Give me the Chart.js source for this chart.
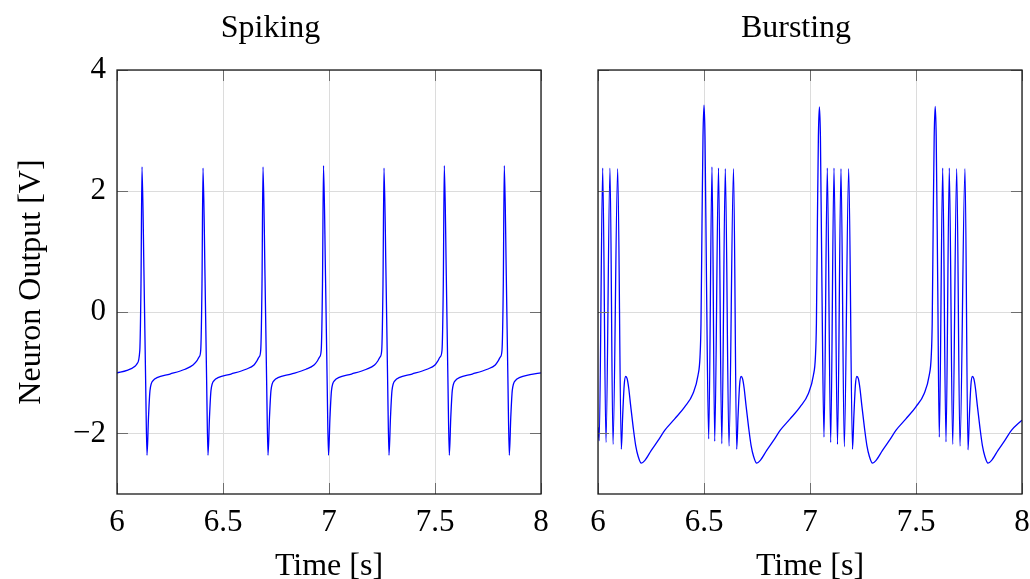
<!DOCTYPE html>
<html>
<head>
<meta charset="utf-8">
<script src="https://cdn.jsdelivr.net/npm/chart.js@4.4.1/dist/chart.umd.min.js"></script>
<style>
  body { margin: 0; background: #fff; overflow: hidden; }
  canvas { position: absolute; top: 0; }
  #spiking { left: 0; }
  #bursting { left: 570px; }
</style>
</head>
<body>
<canvas id="spiking" width="658" height="579"></canvas>
<canvas id="bursting" width="480" height="579"></canvas>
<script>
// Spiking neuron trace (time in s, output in V)
const spikeTime = [
  6.0000, 6.0472, 6.0849, 6.0943, 6.1075, 6.1132, 6.1179, 6.1274, 6.1354, 6.1415,
  6.1486, 6.1557, 6.1722, 6.1887, 6.2500, 6.3208, 6.3585, 6.3774,
  6.3868, 6.3948, 6.4009, 6.4057, 6.4151, 6.4231, 6.4292, 6.4363, 6.4434, 6.4599,
  6.4764, 6.5377, 6.6085, 6.6462, 6.6604, 6.6698,
  6.6778, 6.6840, 6.6887, 6.6981, 6.7061, 6.7123, 6.7193, 6.7264, 6.7429, 6.7594,
  6.8208, 6.8915, 6.9292, 6.9458, 6.9552,
  6.9632, 6.9693, 6.9741, 6.9835, 6.9915, 6.9976, 7.0047, 7.0118, 7.0283, 7.0448,
  7.1061, 7.1769, 7.2146, 7.2311, 7.2406,
  7.2486, 7.2547, 7.2594, 7.2689, 7.2769, 7.2830, 7.2901, 7.2972, 7.3137, 7.3302,
  7.3915, 7.4623, 7.5000, 7.5142, 7.5236,
  7.5330, 7.5392, 7.5439, 7.5533, 7.5613, 7.5675, 7.5745, 7.5816, 7.5981, 7.6146,
  7.6759, 7.7467, 7.7844, 7.7986, 7.8080,
  7.8160, 7.8222, 7.8269, 7.8363, 7.8443, 7.8505, 7.8575, 7.8646, 7.8811, 7.8976,
  7.9481, 8.0000
];
const spikeVolt = [
  -1.00, -0.96, -0.89, -0.85, -0.63, 0.47, 2.40, 0.60, -1.20, -2.36,
  -1.73, -1.29, -1.12, -1.08, -1.02, -0.94, -0.87, -0.80,
  -0.74, -0.63, 0.47, 2.38, 0.60, -1.20, -2.36, -1.73, -1.29, -1.12,
  -1.08, -1.02, -0.94, -0.87, -0.80, -0.74,
  -0.63, 0.47, 2.40, 0.60, -1.20, -2.36, -1.73, -1.29, -1.12, -1.08,
  -1.02, -0.94, -0.87, -0.80, -0.74,
  -0.63, 0.47, 2.42, 0.60, -1.20, -2.36, -1.73, -1.29, -1.12, -1.08,
  -1.02, -0.94, -0.87, -0.80, -0.74,
  -0.63, 0.47, 2.38, 0.60, -1.20, -2.36, -1.73, -1.29, -1.12, -1.08,
  -1.02, -0.94, -0.87, -0.80, -0.74,
  -0.63, 0.47, 2.42, 0.60, -1.20, -2.36, -1.73, -1.29, -1.12, -1.08,
  -1.02, -0.94, -0.87, -0.80, -0.74,
  -0.63, 0.47, 2.42, 0.60, -1.20, -2.36, -1.73, -1.29, -1.12, -1.08,
  -1.03, -1.00
];

// Bursting neuron trace
const burstTime = [
  6.0000, 6.0057, 6.0222, 6.0377, 6.0566, 6.0708, 6.0929, 6.1099, 6.1165, 6.1236,
  6.1307, 6.1377, 6.1448, 6.1543, 6.1660, 6.1778, 6.1896, 6.2042, 6.2203, 6.2514,
  6.2830, 6.3146, 6.3618, 6.4090, 6.4481, 6.4717, 6.4811, 6.4858, 6.4906, 6.4953,
  6.5000, 6.5047, 6.5118, 6.5222, 6.5377, 6.5505, 6.5684, 6.5840, 6.6005, 6.6179,
  6.6392, 6.6542, 6.6608, 6.6679, 6.6750, 6.6821, 6.6892, 6.6986, 6.7104, 6.7222,
  6.7340, 6.7486, 6.7646, 6.7958, 6.8274, 6.8590, 6.9061, 6.9533, 6.9925, 7.0160,
  7.0255, 7.0302, 7.0349, 7.0396, 7.0443, 7.0491, 7.0561, 7.0660, 7.0816, 7.0976,
  7.1132, 7.1297, 7.1462, 7.1618, 7.1825, 7.2005, 7.2071, 7.2142, 7.2212, 7.2283,
  7.2354, 7.2448, 7.2566, 7.2684, 7.2802, 7.2948, 7.3108, 7.3420, 7.3736, 7.4052,
  7.4524, 7.4995, 7.5387, 7.5623, 7.5717, 7.5764, 7.5811, 7.5858, 7.5906, 7.5953,
  7.6024, 7.6099, 7.6259, 7.6415, 7.6571, 7.6731, 7.6920, 7.7075, 7.7311, 7.7453,
  7.7519, 7.7590, 7.7660, 7.7731, 7.7802, 7.7896, 7.8014, 7.8132, 7.8250, 7.8396,
  7.8557, 7.8868, 7.9184, 7.9500, 8.0000
];
const burstVolt = [
  -1.90, -2.12, 2.38, -2.15, 2.38, -2.18, 2.37, -2.26, -1.70, -1.20,
  -1.06, -1.10, -1.25, -1.55, -1.90, -2.20, -2.38, -2.49, -2.45, -2.28,
  -2.12, -1.95, -1.76, -1.56, -1.34, -1.04, -0.74, -0.19, 1.47, 2.90,
  3.42, 2.90, 0.50, -2.09, 2.40, -2.13, 2.38, -2.17, 2.37, -2.21,
  2.37, -2.26, -1.70, -1.20, -1.06, -1.10, -1.25, -1.55, -1.90, -2.20,
  -2.38, -2.49, -2.45, -2.28, -2.12, -1.95, -1.76, -1.56, -1.34, -1.04,
  -0.74, -0.19, 1.47, 2.90, 3.39, 2.90, 0.50, -2.06, 2.38, -2.15,
  2.38, -2.18, 2.37, -2.22, 2.37, -2.26, -1.70, -1.20, -1.06, -1.10,
  -1.25, -1.55, -1.90, -2.20, -2.38, -2.49, -2.45, -2.28, -2.12, -1.95,
  -1.76, -1.56, -1.34, -1.04, -0.74, -0.19, 1.47, 2.90, 3.40, 2.90,
  0.50, -2.06, 2.38, -2.14, 2.38, -2.18, 2.37, -2.21, 2.37, -2.27,
  -1.70, -1.20, -1.06, -1.10, -1.25, -1.55, -1.90, -2.20, -2.38, -2.49,
  -2.45, -2.28, -2.12, -1.95, -1.78
];

const xTicks = [6, 6.5, 7, 7.5, 8];
const xTickLabels = ['6', '6.5', '7', '7.5', '8'];
const yTicks = [-2, 0, 2, 4];
const yTickLabels = ['\u22122', '0', '2', '4'];

const FONT = 'Liberation Serif, Times New Roman, serif';
const TICK_LEN = 11;

// pgfplots-style box with inward tick marks
const frameTicks = {
  id: 'frameTicks',
  afterDatasetsDraw(chart) {
    const { ctx, chartArea: a, scales: { x, y } } = chart;
    ctx.save();
    ctx.strokeStyle = '#6e6e6e';
    ctx.lineWidth = 1;
    ctx.beginPath();
    x.ticks.forEach(t => {
      const px = Math.round(x.getPixelForValue(t.value)) + 0.5;
      ctx.moveTo(px, a.top); ctx.lineTo(px, a.top + TICK_LEN);
      ctx.moveTo(px, a.bottom); ctx.lineTo(px, a.bottom - TICK_LEN);
    });
    y.ticks.forEach(t => {
      const py = Math.round(y.getPixelForValue(t.value)) + 0.5;
      ctx.moveTo(a.left, py); ctx.lineTo(a.left + TICK_LEN, py);
      ctx.moveTo(a.right, py); ctx.lineTo(a.right - TICK_LEN, py);
    });
    ctx.stroke();
    ctx.strokeStyle = '#1a1a1a';
    ctx.lineWidth = 1.3;
    ctx.strokeRect(a.left, a.top, a.width, a.height);
    ctx.restore();
  }
};

function makeChart(id, title, times, volts, showY, yWidth, padRight) {
  const ctx = document.getElementById(id).getContext('2d');
  return new Chart(ctx, {
    type: 'line',
    data: {
      datasets: [{
        data: times.map((t, i) => ({ x: t, y: volts[i] })),
        borderColor: '#0000ff',
        borderWidth: 1.3,
        pointRadius: 0,
        cubicInterpolationMode: 'monotone',
        fill: false
      }]
    },
    plugins: [frameTicks],
    options: {
      responsive: false,
      animation: false,
      layout: { padding: { left: 0, right: padRight, top: 0, bottom: 0 } },
      plugins: {
        legend: { display: false },
        tooltip: { enabled: false },
        title: {
          display: true,
          text: title,
          color: '#000',
          font: { family: FONT, size: 32, weight: 'normal', lineHeight: 1.2 },
          padding: { top: 9, bottom: 22.6 }
        }
      },
      scales: {
        x: {
          type: 'linear',
          min: 6,
          max: 8,
          afterBuildTicks: s => { s.ticks = xTicks.map(v => ({ value: v })); },
          afterFit: s => { s.height = 85; },
          ticks: {
            color: '#000',
            padding: 10,
            maxRotation: 0,
            font: { family: FONT, size: 31 },
            callback: (v, i) => xTickLabels[i]
          },
          grid: { color: '#dcdcdc', lineWidth: 1, drawTicks: false },
          border: { display: false },
          title: {
            display: true,
            text: 'Time [s]',
            color: '#000',
            font: { family: FONT, size: 32, lineHeight: 0.8 },
            padding: { top: 0, bottom: 0 }
          }
        },
        y: {
          type: 'linear',
          min: -3,
          max: 4,
          afterBuildTicks: s => { s.ticks = yTicks.map(v => ({ value: v })); },
          afterFit: s => { s.width = yWidth; },
          ticks: {
            display: showY,
            color: '#000',
            padding: 11,
            font: { family: FONT, size: 31 },
            callback: (v, i) => yTickLabels[i]
          },
          grid: { color: '#dcdcdc', lineWidth: 1, drawTicks: false },
          border: { display: false },
          title: {
            display: showY,
            text: 'Neuron Output [V]',
            color: '#000',
            font: { family: FONT, size: 32, lineHeight: 1.2 },
            padding: { top: 12, bottom: 0 }
          }
        }
      }
    }
  });
}

makeChart('spiking', 'Spiking', spikeTime, spikeVolt, true, 117, 117);
makeChart('bursting', 'Bursting', burstTime, burstVolt, false, 28, 28);
</script>
</body>
</html>
